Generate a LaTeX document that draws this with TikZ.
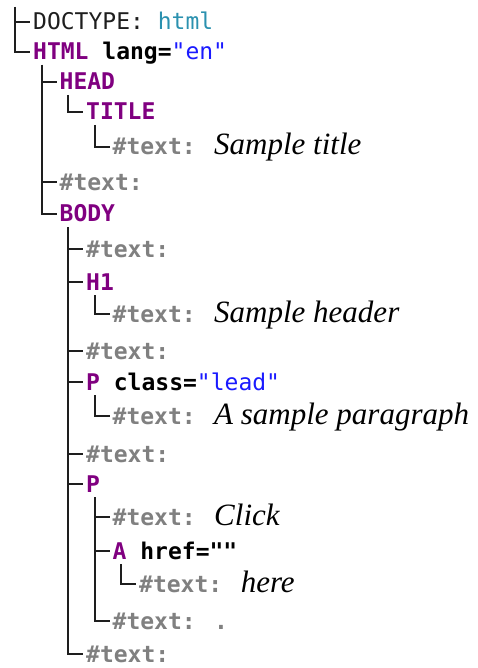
\documentclass[tikz,border=0pt]{standalone}
\usepackage{fontspec}
\newfontfamily\codefont{DejaVu Sans Mono}
\newfontfamily\prosefont{Liberation Serif}
\definecolor{tagpurple}{HTML}{800080}
\definecolor{textgray}{HTML}{808080}
\definecolor{valblue}{HTML}{1A1AFF}
\definecolor{doctypeteal}{HTML}{2B91AF}
\definecolor{treeline}{HTML}{1E1E1E}
\newcommand\tagname[1]{{\bfseries\color{tagpurple}#1}}
\newcommand\attrname[1]{{\bfseries\color{black}#1}}
\newcommand\attrval[1]{{\color{valblue}#1}}
\newcommand\txtlabel{{\bfseries\color{textgray}\#text:}}
\newcommand\prose[1]{{\prosefont\itshape\fontsize{31}{31}\selectfont #1}}
\tikzset{
  row/.style={anchor=west, inner sep=0pt, text height=16pt, text depth=0pt,
    font=\codefont\fontsize{23}{24}\selectfont},
  branch/.style={line width=2pt, draw=treeline}
}
\begin{document}
\begin{tikzpicture}[x=1pt,y=1pt]
  \useasboundingbox (0,0) rectangle (478,-668);
  \coordinate (root) at (15,-7);
  \node[row] (doctype) at (33,-22) {{\color{treeline}DOCTYPE:} {\color{doctypeteal}html}};
  \node[row] (html) at (33,-52) {\tagname{HTML} \attrname{lang=}\attrval{"en"}};
  \node[row] (head) at (59.5,-82) {\tagname{HEAD}};
  \node[row] (title) at (86,-112) {\tagname{TITLE}};
  \node[row] (t1) at (112.5,-147) {\txtlabel{} \prose{Sample title}};
  \node[row] (t2) at (59.5,-182) {\txtlabel};
  \node[row] (body) at (59.5,-214) {\tagname{BODY}};
  \node[row] (t3) at (86,-249) {\txtlabel};
  \node[row] (h1) at (86,-282) {\tagname{H1}};
  \node[row] (t4) at (112.5,-314) {\txtlabel{} \prose{Sample header}};
  \node[row] (t5) at (86,-351) {\txtlabel};
  \node[row] (plead) at (86,-382) {\tagname{P} \attrname{class=}\attrval{"lead"}};
  \node[row] (t6) at (112.5,-416) {\txtlabel{} \prose{A sample paragraph}};
  \node[row] (t7) at (86,-454) {\txtlabel};
  \node[row] (p) at (86,-484) {\tagname{P}};
  \node[row] (t8) at (112.5,-517) {\txtlabel{} \prose{Click}};
  \node[row] (a) at (112.5,-551) {\tagname{A} \attrname{href=""}};
  \node[row] (t9) at (139,-584) {\txtlabel{} \prose{here}};
  \node[row] (t10) at (112.5,-621) {\txtlabel{} {\bfseries\color{textgray}.}};
  \node[row] (t11) at (86,-654) {\txtlabel};
  % tree branches
  \foreach \c in {doctype,html}
    \draw[branch] (root) |- ([xshift=-3pt]\c.west);
  \foreach \p/\c in {html/head,html/t2,html/body,head/title,title/t1,
                     body/t3,body/h1,body/t5,body/plead,body/t7,body/p,body/t11,
                     h1/t4,plead/t6,p/t8,p/a,p/t10,a/t9}
    \draw[branch] ([xshift=8.5pt,yshift=-13pt]\p.west) |- ([xshift=-3pt]\c.west);
\end{tikzpicture}
\end{document}
